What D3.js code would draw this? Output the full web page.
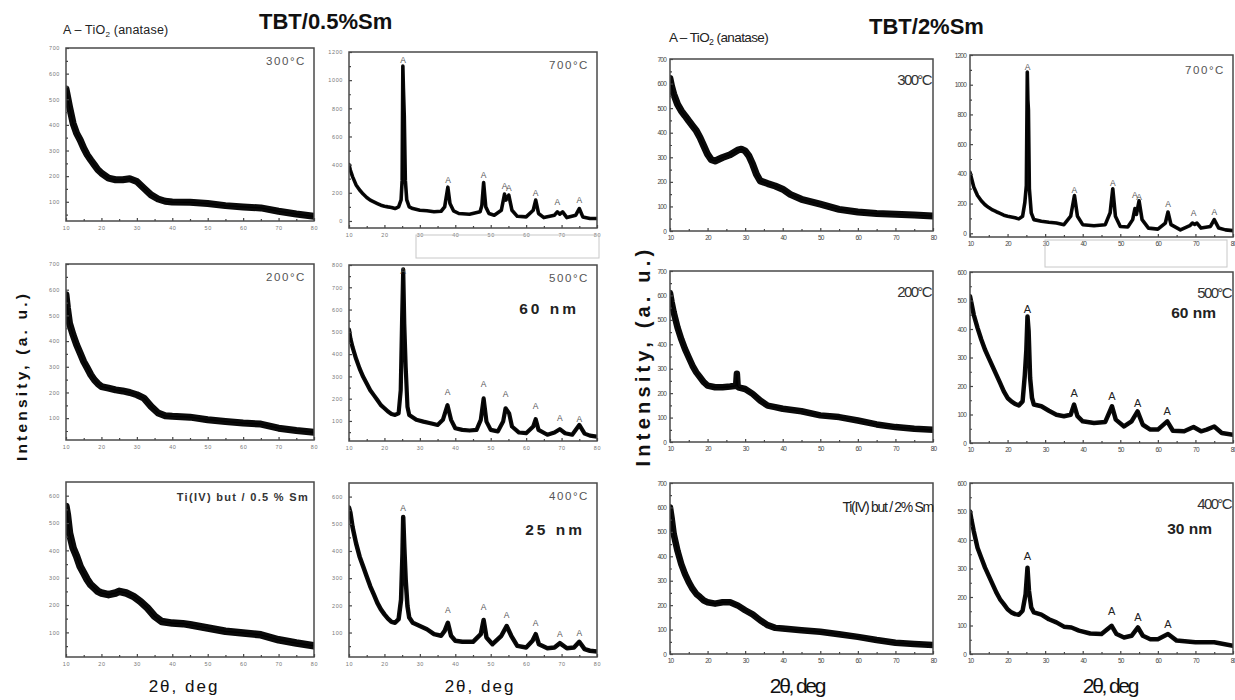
<!DOCTYPE html>
<html><head><meta charset="utf-8">
<script src="https://cdn.jsdelivr.net/npm/d3@7"></script>
<style>body{margin:0;background:#fff}svg{display:block}</style>
</head><body><svg id="c" width="1235" height="700"></svg>
<script>
// ---------------- DATA (2θ in deg, intensity in a.u.) ----------------
const xTickValues = [10,20,30,40,50,60,70,80];

// TBT / 0.5 % Sm
const sm05_300 = [[10,540],[10.3,520],[11,470],[12,406],[13,367],[14,341],[15,309],[16,283],[17,263],[18,244],[19,225],[20,212],[22,192],[24,186],[26,186],[28,190],[30,179],[32,153],[34,127],[36,111],[38,102],[40,99],[45,98],[50,93],[55,85],[60,80],[65,76],[70,63],[75,52],[80,43]];
const sm05_200 = [[10,580],[10.4,530],[11,469],[12,424],[13,385],[14,353],[15,320],[16,295],[17,269],[18,249],[19,234],[20,223],[22,217],[24,210],[26,206],[28,200],[30,191],[32,178],[34,146],[36,120],[38,109],[40,107],[45,104],[50,94],[55,87],[60,81],[65,77],[70,61],[75,52],[80,45]];
const sm05_but = [[10,560],[10.4,530],[11,463],[12,409],[13,378],[14,341],[15,317],[16,293],[17,274],[18,262],[19,250],[20,244],[22,238],[24,244],[25,250],[27,244],[29,232],[31,213],[33,189],[35,159],[37,140],[40,134],[43,132],[45,128],[50,116],[55,104],[60,98],[65,91],[70,73],[75,61],[80,51]];
const sm05_700 = [[10,400],[10.4,360],[11,315],[12,256],[13,220],[14,191],[15,167],[16,148],[17,136],[18,124],[19,112],[20,105],[21,100],[22,96],[23,88],[24,100],[24.7,150],[25,290],[25.2,1100],[25.35,950],[25.6,746],[25.9,290],[26.3,150],[27,100],[28,88],[30,76],[32,72],[34,65],[36,69],[37,100],[37.9,240],[38.5,124],[39.5,72],[41,53],[44,48],[47,65],[47.5,110],[48,272],[48.6,100],[49.5,53],[51,41],[53,76],[53.9,191],[54.3,148],[55.1,184],[56,76],[57.5,33],[60,29],[62,76],[62.7,148],[63.5,53],[65,24],[68,41],[68.8,65],[69.5,48],[70.3,65],[71.5,24],[74,41],[75,88],[76,29],[78,17],[80,17]];
const sm05_500 = [[10,510],[10.4,470],[11,431],[12,379],[13,335],[14,298],[15,268],[16,238],[17,216],[18,194],[19,171],[20,157],[21,142],[22,131],[23,127],[24,134],[24.6,238],[25,565],[25.3,780],[25.6,536],[26,342],[26.5,164],[27,127],[29,105],[31,97],[33,90],[35,82],[36.5,105],[37.8,171],[38.8,105],[40,67],[42,60],[44,57],[46,60],[47.2,105],[48,201],[48.8,97],[50,60],[52,53],[53.5,97],[54.2,157],[55.2,134],[56,75],[58,48],[60,45],[62,75],[62.7,108],[63.5,60],[66,38],[68,48],[69.5,63],[71,45],[73,38],[75,82],[76.5,43],[78,34],[80,30]];
const sm05_400 = [[10,560],[10.4,540],[11,488],[12,428],[13,379],[14,343],[15,306],[16,270],[17,240],[18,209],[19,185],[20,167],[21,151],[22,139],[23,136],[24,149],[24.7,221],[25.1,391],[25.3,525],[25.6,416],[26,294],[26.5,197],[27,155],[28,136],[30,124],[32,112],[34,94],[36,88],[37,106],[37.9,136],[38.8,88],[40,70],[42,66],[45,66],[47.2,94],[48,146],[48.8,82],[50.5,57],[53,88],[54.5,124],[55.8,88],[57.5,51],[60,45],[61.8,70],[62.7,94],[63.6,57],[66,42],[68,45],[69.5,61],[71.5,42],[73.5,45],[75,66],[76.5,39],[78,33],[80,30]];
const sm05_700_A = [[25.3,1140],[38,292],[48,323],[53.9,249],[55.1,237],[62.7,201],[68.8,136],[75,148]];
const sm05_500_A = [[25.3,773],[37.8,231],[48,265],[54.2,221],[62.7,168],[69.5,115],[75,108]];
const sm05_400_A = [[25.3,559],[37.9,182],[48,195],[54.5,163],[62.7,134],[69.5,94],[75,100]];

// TBT / 2 % Sm
const sm2_300 = [[10,620],[10.4,590],[11,557],[12,516],[13,489],[14,469],[15,448],[16,428],[17,408],[18,380],[19,346],[20,312],[21,290],[22,285],[24,299],[26,310],[28,329],[29,333],[30,326],[31,306],[32,272],[33,231],[34,204],[36,193],[38,183],[40,170],[42,149],[45,129],[50,109],[55,88],[60,77],[65,71],[70,68],[75,65],[80,61]];
const sm2_200 = [[10,610],[10.4,575],[11,530],[12,469],[13,421],[14,380],[15,346],[16,312],[17,285],[18,265],[19,245],[20,231],[22,224],[24,224],[26,227],[27.6,230],[27.8,279],[28,230],[28.2,224],[30,217],[32,197],[34,170],[36,149],[38,143],[40,136],[45,126],[50,109],[55,102],[60,88],[65,72],[70,61],[75,54],[80,50]];
const sm2_but = [[10,600],[10.4,560],[11,490],[12,422],[13,368],[14,327],[15,294],[16,267],[17,246],[18,233],[19,219],[20,212],[22,206],[24,212],[26,212],[28,199],[30,179],[32,162],[34,138],[36,118],[38,107],[40,104],[45,97],[50,91],[55,81],[60,70],[65,57],[70,46],[75,41],[80,37]];
const sm2_700 = [[10,410],[10.4,370],[11,312],[12,254],[13,219],[14,192],[15,173],[16,157],[17,145],[18,134],[19,122],[20,115],[22,104],[23,97],[24,115],[24.6,208],[25,323],[25.25,1085],[25.4,900],[25.55,831],[25.8,300],[26.3,138],[27,92],[29,81],[31,74],[33,69],[35,58],[36.8,115],[37.8,254],[38.6,115],[40,58],[43,51],[46,58],[47.3,138],[48,300],[48.7,115],[50,46],[52,42],[53.3,92],[53.9,166],[54.3,127],[55,219],[55.8,92],[57.5,35],[60,28],[62,69],[62.7,143],[63.5,58],[66,23],[68.5,51],[69.2,69],[69.8,60],[70.4,69],[71.5,35],[74,46],[75,92],[76.2,35],[78,23],[80,18]];
const sm2_500 = [[10,515],[10.4,490],[11,450],[12,404],[13,363],[14,327],[15,298],[16,269],[17,240],[18,211],[19,181],[20,158],[21,146],[22,137],[23,132],[24,146],[24.6,240],[25,327],[25.3,444],[25.6,392],[26,228],[26.5,158],[27,135],[29,129],[31,113],[33,99],[35,94],[36.8,99],[37.7,135],[38.6,94],[40,76],[43,70],[46,74],[47.8,129],[48.8,82],[51,58],[53,76],[54.6,111],[56,64],[58,47],[60,47],[62.5,76],[64,43],[67,41],[69.5,56],[71.5,41],[73,47],[75,58],[77,35],[80,29]];
const sm2_400 = [[10,500],[10.4,470],[11,431],[12,373],[13,338],[14,303],[15,274],[16,245],[17,216],[18,192],[19,175],[20,157],[21,146],[22,140],[23,138],[24,152],[24.8,210],[25.3,303],[25.7,221],[26.3,163],[27,146],[29,138],[31,122],[33,111],[35,96],[37,93],[39,82],[42,72],[45,70],[47.7,99],[49,70],[51,58],[53,64],[54.7,93],[56,64],[58,52],[60,52],[62.7,70],[65,47],[70,41],[75,41],[80,29]];
const sm2_700_A = [[25.3,1119],[37.8,288],[48,335],[53.9,258],[55,242],[62.7,196],[69.5,138],[75,143]];
const sm2_500_A = [[25.3,468],[37.7,175],[47.8,164],[54.6,140],[62.5,111]];
const sm2_400_A = [[25.3,344],[47.7,152],[54.7,131],[62.7,103]];

// tick label sets
const yTicks700 = [100,200,300,400,500,600,700];
const yTicks600 = [100,200,300,400,500,600];
const yTicks800 = [100,200,300,400,500,600,700,800];
const yTicks1200 = [0,200,400,600,800,1000,1200];
const yTicks700z = [0,100,200,300,400,500,600,700];
const yTicks600z = [0,100,200,300,400,500,600];

// ---------------- LAYOUT ----------------
const panels = [
  {g:'L', box:[66,48,248,173],  yd:[25,700],  yt:yTicks700,  data:sm05_300, sw:7, lab:'300°C'},
  {g:'L', box:[66,264,248,176], yd:[15,700],  yt:yTicks700,  data:sm05_200, sw:7, lab:'200°C'},
  {g:'L', box:[66,482,248,175], yd:[10,650],  yt:yTicks600,  data:sm05_but, sw:7.5},
  {g:'L', box:[349,52,248,176], yd:[-50,1200],yt:yTicks1200, data:sm05_700, sw:3.6, A:sm05_700_A, lab:'700°C'},
  {g:'L', box:[349,265,248,176],yd:[10,800],  yt:yTicks800,  data:sm05_500, sw:4.2, A:sm05_500_A, lab:'500°C'},
  {g:'L', box:[349,483,248,174],yd:[10,650],  yt:yTicks600,  data:sm05_400, sw:4.5, A:sm05_400_A, lab:'400°C'},
  {g:'R', box:[670,59,263,172], yd:[0,700],   yt:yTicks700z, data:sm2_300, sw:7, lab:'300°C'},
  {g:'R', box:[670,271,263,171],yd:[0,700],   yt:yTicks700z, data:sm2_200, sw:6.5, lab:'200°C'},
  {g:'R', box:[670,483,263,171],yd:[0,700],   yt:yTicks700z, data:sm2_but, sw:6.5},
  {g:'R', box:[970,55,263,182], yd:[-25,1200],yt:yTicks1200, data:sm2_700, sw:3.6, A:sm2_700_A, lab:'700°C', spaced:true},
  {g:'R', box:[970,272,263,171],yd:[0,600],   yt:yTicks600z, data:sm2_500, sw:4.5, A:sm2_500_A, lab:'500°C'},
  {g:'R', box:[970,483,263,171],yd:[0,600],   yt:yTicks600z, data:sm2_400, sw:4.5, A:sm2_400_A, lab:'400°C'}
];

const svg = d3.select('#c');
const FONT = "'Liberation Sans', Arial, sans-serif";
svg.append('rect').attr('width',1235).attr('height',700).attr('fill','#fff');
const fmt = d3.format('d');

panels.forEach((p,i) => {
  const [bx,by,bw,bh] = p.box;
  const x = d3.scaleLinear().domain([10,80]).range([bx,bx+bw]);
  const y = d3.scaleLinear().domain(p.yd).range([by+bh,by]);
  const g = svg.append('g');
  const cid = 'clip'+i;
  svg.append('clipPath').attr('id',cid).append('rect').attr('x',bx).attr('y',by).attr('width',bw).attr('height',bh);
  const line = d3.line().x(d=>x(d[0])).y(d=>y(d[1]));
  g.append('path').datum(p.data).attr('clip-path',`url(#${cid})`)
    .attr('d',line).attr('fill','none').attr('stroke','#0a0a0a')
    .attr('stroke-width',p.sw).attr('stroke-linejoin','round').attr('stroke-linecap','round');
  g.append('path').datum(p.data).attr('clip-path',`url(#${cid})`)
    .attr('d',line).attr('fill','none').attr('stroke','#000').attr('stroke-width',1.2);

  const isR = p.g==='R';
  const tickFont = isR ? 6.5 : 5.5;
  g.append('g').attr('transform',`translate(${bx},0)`)
    .call(d3.axisLeft(y).tickValues(p.yt).tickSize(-3).tickPadding(isR?4:6).tickFormat(fmt));
  const step = p.yt[1]-p.yt[0];
  const minorY = p.yt.map(v=>v+step/2).filter(v=>v<p.yd[1]);
  if (p.yt[0]-step/2>p.yd[0]) minorY.push(p.yt[0]-step/2);
  g.append('g').attr('transform',`translate(${bx},0)`)
    .call(d3.axisLeft(y).tickValues(minorY).tickSize(-2).tickFormat(''));
  g.append('g').attr('transform',`translate(0,${by+bh})`)
    .call(d3.axisBottom(x).tickValues(xTickValues).tickSize(-3).tickPadding(isR?4:5).tickFormat(fmt));
  g.append('g').attr('transform',`translate(0,${by+bh})`)
    .call(d3.axisBottom(x).tickValues(xTickValues.slice(0,-1).map(v=>v+5)).tickSize(-2).tickFormat(''));
  g.selectAll('.domain').remove();
  g.selectAll('.tick line').attr('stroke','#444').attr('stroke-width',1.2);
  g.selectAll('.tick text').attr('font-family',FONT).attr('font-size',tickFont)
    .attr('fill',isR?'#444':'#777').attr('letter-spacing',isR?-0.8:0.6);
  g.append('rect').attr('x',bx).attr('y',by).attr('width',bw).attr('height',bh)
    .attr('fill','none').attr('stroke','#4a4a4a').attr('stroke-width',1.5);
  if (p.A) {
    g.selectAll('text.A').data(p.A).join('text').attr('class','A')
      .attr('x',d=>x(d[0])).attr('y',d=>y(d[1])).attr('dy','0.35em')
      .attr('text-anchor','middle').attr('font-family',FONT)
      .attr('font-size',isR && !p.spaced ? 11 : 8.5).attr('fill',isR && !p.spaced ? '#222':'#555')
      .text('A');
  }
  if (p.lab) {
    const wide = !isR || p.spaced;
    g.append('text').attr('x',bx+bw-(wide?8:2)).attr('y',by+(wide?(isR?19:17):26))
      .attr('text-anchor','end').attr('font-family',FONT)
      .attr('font-size',wide?11.5:15).attr('letter-spacing',wide?1.6:-1.6)
      .attr('fill',wide?'#555':'#333').text(p.lab);
  }
});

function sizeLabel(t, xr, yb, isR){
  svg.append('text').attr('x',xr).attr('y',yb).attr('text-anchor','end')
    .attr('font-family',FONT).attr('font-weight','bold')
    .attr('font-size',15.5).attr('letter-spacing',isR?0:3).attr('fill','#222').text(t);
}
sizeLabel('60 nm',579,314,false);
sizeLabel('25 nm',585,535,false);
sizeLabel('60 nm',1216,318,true);
sizeLabel('30 nm',1212,534,true);

svg.append('text').attr('x',309).attr('y',501).attr('text-anchor','end')
  .attr('font-family',FONT).attr('font-weight','bold').attr('font-size',11)
  .attr('letter-spacing',1.3).attr('fill','#333').text('Ti(IV) but / 0.5 % Sm');
svg.append('text').attr('x',933).attr('y',512).attr('text-anchor','end')
  .attr('font-family',FONT).attr('font-size',14)
  .attr('letter-spacing',-1.3).attr('fill','#222').text('Ti(IV) but / 2% Sm');

function title(t,xl,yb){
  svg.append('text').attr('x',xl).attr('y',yb).attr('font-family',FONT)
    .attr('font-weight','bold').attr('font-size',22).attr('fill','#111').text(t);
}
title('TBT/0.5%Sm',259,29);
title('TBT/2%Sm',869,34);

function anatase(xl,yb,fs,ls){
  const t = svg.append('text').attr('x',xl).attr('y',yb).attr('font-family',FONT)
    .attr('font-size',fs).attr('letter-spacing',ls).attr('fill','#222');
  t.append('tspan').text('A \u2013 TiO');
  t.append('tspan').attr('font-size',fs*0.65).attr('dy',3).text('2');
  t.append('tspan').attr('dy',-3).text(' (anatase)');
}
anatase(63,34,12.5,0.2);
anatase(669,42,13.5,-0.6);

function yTitle(cx,cy,fs,ls){
  svg.append('text').attr('transform',`translate(${cx},${cy}) rotate(-90)`)
    .attr('text-anchor','middle').attr('dy','0.35em').attr('font-family',FONT)
    .attr('font-weight','bold').attr('font-size',fs).attr('letter-spacing',ls)
    .attr('fill','#111').text('Intensity, (a. u.)');
}
yTitle(22,376,15.5,3.2);
yTitle(643,356,20,4.2);

function xTitle(cx,yb,fs,ls){
  svg.append('text').attr('x',cx).attr('y',yb).attr('text-anchor','middle')
    .attr('font-family',FONT).attr('font-size',fs).attr('letter-spacing',ls)
    .attr('fill','#111').text('2\u03b8, deg');
}
xTitle(184,692,17,2);
xTitle(480,692,17,2);
xTitle(797,693,21,-2.2);
xTitle(1110,693,21,-2.2);

svg.append('rect').attr('x',416).attr('y',235).attr('width',183).attr('height',23)
  .attr('fill','none').attr('stroke','#c8c8c8').attr('stroke-width',1);
svg.append('rect').attr('x',1045).attr('y',240).attr('width',182).attr('height',27)
  .attr('fill','none').attr('stroke','#c8c8c8').attr('stroke-width',1);
</script></body></html>
